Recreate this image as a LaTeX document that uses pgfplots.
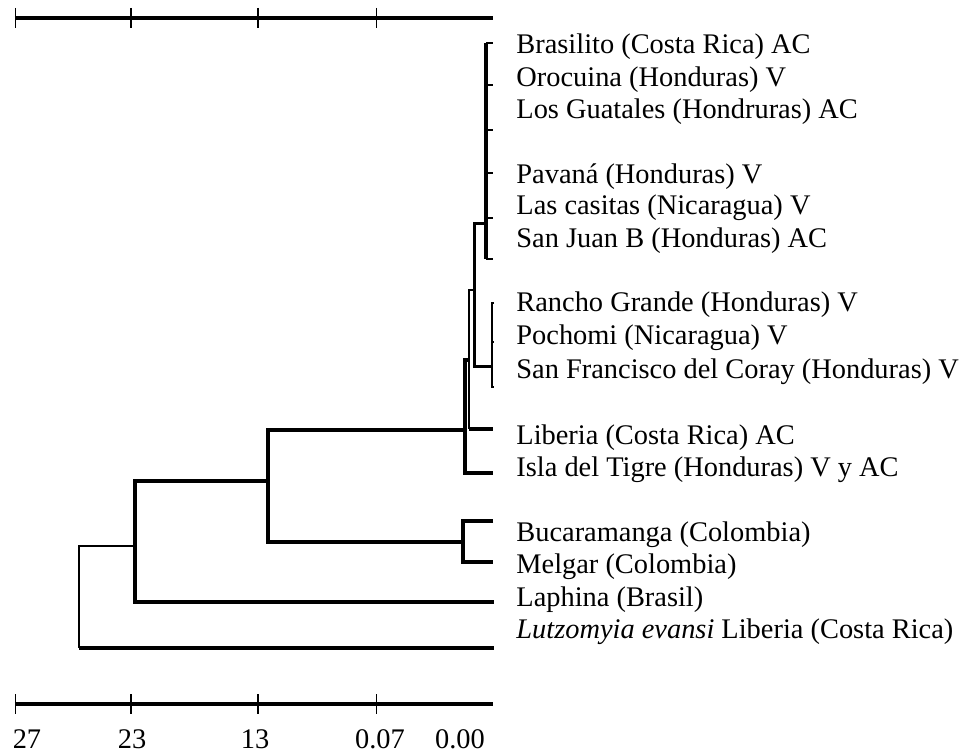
\documentclass[border=0pt]{standalone}
\usepackage{pgfplots}
\pgfplotsset{compat=1.18}
\usepackage{fontspec}
\setmainfont{Liberation Serif}
\begin{document}
\begin{tikzpicture}
\begin{axis}[
  x=0.5pt, y=0.5pt,
  xmin=15, xmax=493, ymin=50, ymax=736,
  axis x line=box, axis y line=none,
  axis line style={line width=1.8pt, black},
  clip=false,
  xtick={15.5,131,258,376.5},
  xticklabels={},
  major tick length=10pt,
  tick align=center,
  tick style={line width=0.8pt, black},
  extra x ticks={27,132,255,380,460},
  extra x tick labels={27,23,13,0.07,0.00},
  extra x tick style={major tick length=0pt, xticklabel style={anchor=base, yshift=-22.5pt}},
  xticklabel style={font=\fontsize{14.2}{17}\selectfont},
  ytick=\empty,
]
% root
\addplot[black, line width=1pt] coordinates {(135,208) (79,208) (79,106)};
\addplot[black, line width=1.8pt] coordinates {(79,106) (494,106)};
% node 23
\addplot[black, line width=1.8pt] coordinates {(268,273) (135,273) (135,152) (494,152)};
% node 13
\addplot[black, line width=1.8pt] coordinates {(465,324) (268,324) (268,212) (463,212)};
% Colombia
\addplot[black, line width=1.8pt] coordinates {(493,233) (463,233) (463,192) (493,192)};
% Isla del Tigre node
\addplot[black, line width=1.8pt] coordinates {(469,394) (465,394) (465,281) (493,281)};
% Liberia node
\addplot[black, line width=1pt] coordinates {(474,464) (469,464) (469,325)};
\addplot[black, line width=1.8pt] coordinates {(469,325) (493,325)};
% A + B node
\addplot[black, line width=1.5pt] coordinates {(486,530) (474,530) (474,387) (492,387)};
% cluster B
\addplot[black, line width=1pt] coordinates {(494,451) (492,451) (492,367) (494,367)};
\addplot[black, line width=1pt] coordinates {(492,412) (494,412)};
% cluster A
\addplot[black, line width=2pt] coordinates {(486,711) (486,495)};
\addplot[black, line width=1.2pt] coordinates {(486,711) (493,711)};
\addplot[black, line width=1.2pt] coordinates {(486,669) (493,669)};
\addplot[black, line width=1.2pt] coordinates {(486,624) (493,624)};
\addplot[black, line width=1.2pt] coordinates {(486,581) (493,581)};
\addplot[black, line width=1.2pt] coordinates {(486,536) (493,536)};
\addplot[black, line width=1.2pt] coordinates {(486,495) (493,495)};
% labels
\begin{scope}[every node/.style={anchor=west, inner sep=0pt, font=\fontsize{14.2}{17}\selectfont}]
\node at (axis cs:516,707) {Brasilito (Costa Rica) AC};
\node at (axis cs:516,674) {Orocuina (Honduras) V};
\node at (axis cs:516,642) {Los Guatales (Hondruras) AC};
\node at (axis cs:516,577) {Pavaná (Honduras) V};
\node at (axis cs:516,546) {Las casitas (Nicaragua) V};
\node at (axis cs:516,513) {San Juan B (Honduras) AC};
\node at (axis cs:516,449) {Rancho Grande (Honduras) V};
\node at (axis cs:516,416) {Pochomi (Nicaragua) V};
\node at (axis cs:516,382) {San Francisco del Coray (Honduras) V};
\node at (axis cs:516,316) {Liberia (Costa Rica) AC};
\node at (axis cs:516,284) {Isla del Tigre (Honduras) V y AC};
\node at (axis cs:516,219) {Bucaramanga (Colombia)};
\node at (axis cs:516,187) {Melgar (Colombia)};
\node at (axis cs:516,154) {Laphina (Brasil)};
\node at (axis cs:516,122) {\textit{Lutzomyia evansi} Liberia (Costa Rica)};
\end{scope}
\coordinate (BL) at (axis cs:0,0);
\coordinate (TR) at (axis cs:960,754);
\end{axis}
\pgfresetboundingbox
\path (BL) rectangle (TR);
\end{tikzpicture}
\end{document}
